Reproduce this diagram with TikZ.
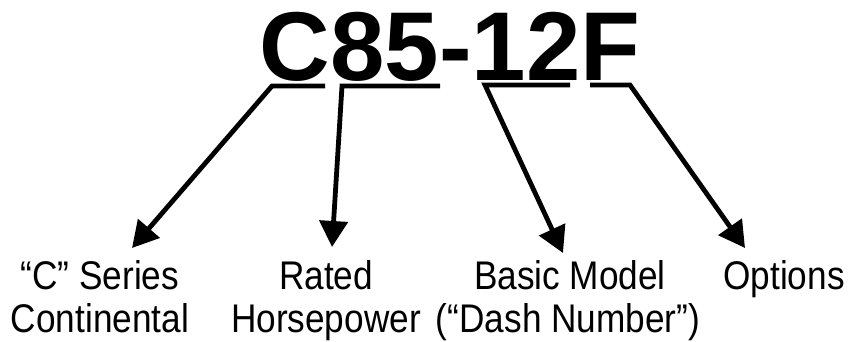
\documentclass[tikz,border=0pt]{standalone}
\usepackage{fontspec}
\setmainfont{Liberation Sans}
\newfontfamily\labfont[FakeStretch=0.88]{Liberation Sans}
\usetikzlibrary{arrows.meta}
\begin{document}
\begin{tikzpicture}[x=1pt,y=-1pt,
  titlefont/.style={font=\bfseries\fontsize{97.8}{100}\selectfont},
  labeltext/.style={font=\labfont\fontsize{40}{42}\selectfont,inner sep=0pt,anchor=base},
  pointer/.style={line width=4.8pt,miter limit=10,-{Triangle[length=26pt,width=28pt]}}]
\useasboundingbox (0,0) rectangle (854,341);
\node[titlefont,inner sep=0pt,anchor=base] (title) at (450,80) {C85-12F};
% labels
\node[labeltext] (l1a) at (100,289) {“C” Series};
\node[labeltext] (l1b) at (100,332) {Continental};
\node[labeltext] (l2a) at (326,289) {Rated};
\node[labeltext] (l2b) at (326,332) {Horsepower};
\node[labeltext] (l3a) at (570,289) {Basic Model};
\node[labeltext] (l3b) at (568,332) {(“Dash Number”)};
\node[labeltext] (l4a) at (784,289) {Options};
% bracket coordinates
\coordinate (b1s) at (325,86); \coordinate (b1c) at (272,86); \coordinate (t1) at (132,248);
\coordinate (b2s) at (440,86); \coordinate (b2c) at (342,86); \coordinate (t2) at (332,247);
\coordinate (b3s) at (570,85); \coordinate (b3c) at (485,85); \coordinate (t3) at (563,253);
\coordinate (b4s) at (590,85); \coordinate (b4c) at (630,85); \coordinate (t4) at (745,248);
\draw[pointer] (b1s) -- (b1c) -- (t1);
\draw[pointer] (b2s) -- (b2c) -- (t2);
\draw[pointer] (b3s) -- (b3c) -- (t3);
\draw[pointer] (b4s) -- (b4c) -- (t4);
\end{tikzpicture}
\end{document}
